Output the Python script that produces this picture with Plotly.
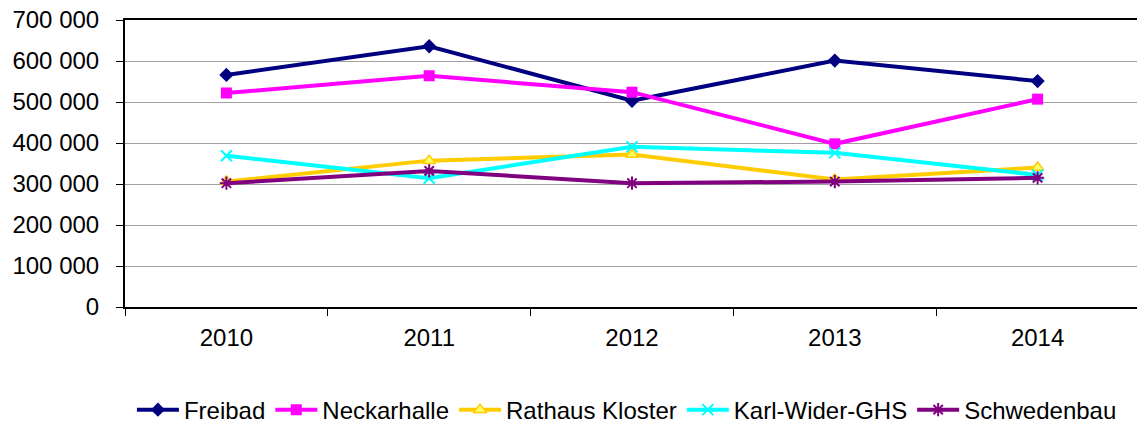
import plotly.graph_objects as go

years = ["2010", "2011", "2012", "2013", "2014"]
freibad = [566000, 636000, 503000, 601000, 551000]
neckarhalle = [522000, 564000, 524000, 398000, 507000]
rathaus_kloster = [306000, 357000, 372000, 311000, 340000]
karl_wider_ghs = [369000, 314000, 391000, 376000, 322000]
schwedenbau = [302000, 332000, 302000, 306000, 315000]

series = [
    ("Freibad", freibad, "#000080", "diamond", 11, 0),
    ("Neckarhalle", neckarhalle, "#FF00FF", "square", 11, 0),
    ("Rathaus Kloster", rathaus_kloster, "#FFCC00", "triangle-up", 11, 0),
    ("Karl-Wider-GHS", karl_wider_ghs, "#00FFFF", "x-thin", 11, 2),
    ("Schwedenbau", schwedenbau, "#800080", "asterisk", 11, 2),
]

fig = go.Figure()
for name, vals, col, sym, size, lw in series:
    marker = dict(symbol=sym, size=size, color=col)
    if lw:
        marker["line"] = dict(color=col, width=lw)
    elif sym == "triangle-up":
        marker["color"] = "#FFFF66"
        marker["line"] = dict(color=col, width=1.5)
    fig.add_trace(go.Scatter(
        x=years, y=vals, name=name, mode="lines+markers",
        line=dict(color=col, width=4), marker=marker,
    ))

font_family = "Liberation Sans, Arial, sans-serif"
# The page adds an 8px body margin, so the figure is sized 8px smaller.
fig.update_layout(
    width=1137, height=413,
    margin=dict(l=117, r=6, t=12, b=114, autoexpand=False),
    paper_bgcolor="white", plot_bgcolor="white",
    separators=". ",
    font=dict(family=font_family, size=24, color="black"),
    showlegend=True,
    legend=dict(
        orientation="h", x=0.495, xanchor="center", y=-0.359, yanchor="middle",
        font=dict(size=24, family=font_family), itemwidth=42,
        tracegroupgap=0,
    ),
)
fig.update_xaxes(
    type="category", range=[-0.5, 4.5], automargin=False,
    showline=True, linecolor="black", linewidth=2, mirror=True,
    ticks="outside", ticklen=7, tickcolor="black", tickwidth=1,
    tickson="boundaries", showgrid=False,
    tickfont=dict(size=24), ticklabelstandoff=8,
)
fig.update_yaxes(
    range=[0, 700000], dtick=100000, tickformat=",d", automargin=False,
    showline=True, linecolor="black", linewidth=2, mirror=True,
    ticks="outside", ticklen=7, tickcolor="black", tickwidth=1,
    showgrid=True, gridcolor="#A0A0A0", gridwidth=1,
    tickfont=dict(size=24), ticklabelstandoff=12, zeroline=False,
    ticklabeloverflow="allow",
)
fig.write_html("out.html")
